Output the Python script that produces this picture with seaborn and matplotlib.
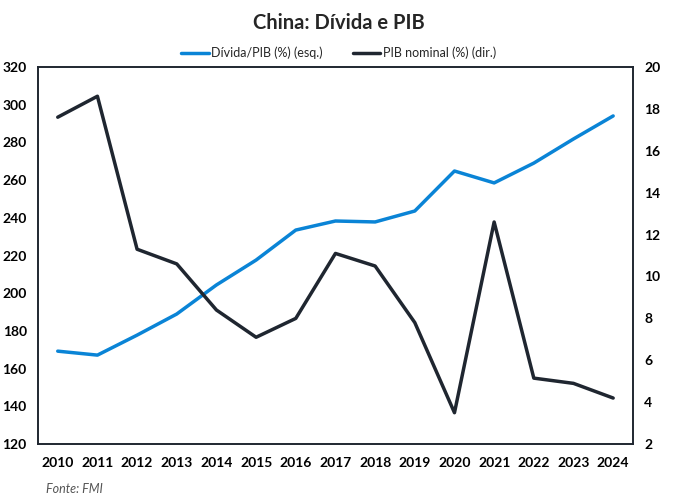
import numpy as np
import pandas as pd
import matplotlib
matplotlib.use("Agg")
import matplotlib.pyplot as plt
import seaborn as sns
from matplotlib.lines import Line2D

# Data
years = [2010, 2011, 2012, 2013, 2014, 2015, 2016, 2017, 2018, 2019, 2020, 2021, 2022, 2023, 2024]
divida_pib = [169.3, 167.2, 177.8, 189.0, 204.4, 217.6, 233.5, 238.3, 237.8, 243.6, 264.8, 258.5, 269.0, 281.8, 294.0]
pib_nominal = [17.6, 18.6, 11.3, 10.6, 8.4, 7.1, 8.0, 11.1, 10.5, 7.8, 3.5, 12.6, 5.15, 4.9, 4.2]

df = pd.DataFrame({"ano": years, "divida": divida_pib, "pib": pib_nominal})

sns.set_style("white")
plt.rcParams['font.family'] = ['Lato', 'DejaVu Sans']

blue = "#0a84d6"
dark = "#1f2630"

fig = plt.figure(figsize=(6.77, 5.03), dpi=100)
ax = fig.add_axes([0.056, 0.117, 0.879, 0.75])
ax2 = ax.twinx()

sns.lineplot(data=df, x="ano", y="divida", ax=ax, color=blue, linewidth=2.5)
sns.lineplot(data=df, x="ano", y="pib", ax=ax2, color=dark, linewidth=2.5)

ax.set_xlim(2009.5, 2024.5)
ax.set_ylim(120, 320)
ax.set_yticks(np.arange(120, 321, 20))
ax2.set_ylim(2, 20)
ax2.set_yticks(np.arange(2, 21, 2))
ax.set_xticks(years)

for a in (ax, ax2):
    a.set_xlabel("")
    a.set_ylabel("")
    for s in a.spines.values():
        s.set_color(dark)
        s.set_linewidth(1.2)
        s.set_visible(True)
    a.tick_params(length=0, labelsize=10, colors="black", pad=8)
    for lbl in a.get_xticklabels() + a.get_yticklabels():
        lbl.set_fontweight("bold")

ax.tick_params(axis="x", pad=9)

fig.suptitle("China: Dívida e PIB", x=0.5, y=0.975, fontsize=14.5, fontweight="bold")

handles = [Line2D([0], [0], color=blue, lw=2.5), Line2D([0], [0], color=dark, lw=2.5)]
fig.legend(handles, ["Dívida/PIB (%) (esq.)", "PIB nominal (%) (dir.)"],
           loc="center", bbox_to_anchor=(0.5, 0.895), ncol=2, frameon=False,
           fontsize=9, handlelength=2.2, handletextpad=0.2, columnspacing=2.4)

fig.text(0.068, 0.02, "Fonte: FMI", fontsize=9, style="italic", color="#555555")

fig.savefig("out.png", dpi=100)
